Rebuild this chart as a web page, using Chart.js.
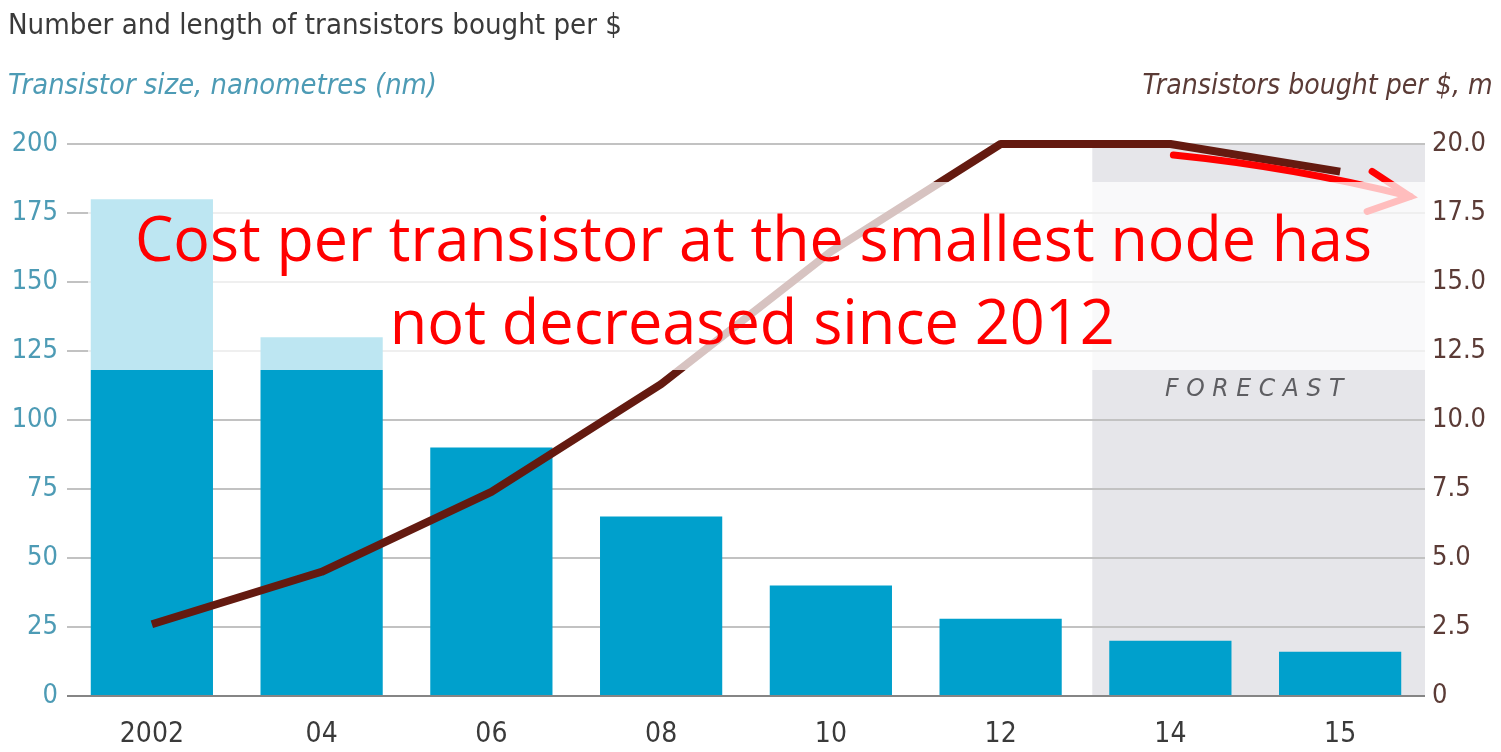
<!DOCTYPE html>
<html lang="en">
<head>
<meta charset="UTF-8">
<title>Transistors per $</title>
<style>
    body{
        margin: 0px;
        padding: 0px;
        background: #ffffff;
    }
    #wrap{
        position: relative;
        width: 1501px;
        height: 752px;
        overflow: hidden;
    }
    #myChart{
        position: absolute;
        left: 0px;
        top: 0px;
    }
    .lbl{
        position: absolute;
        white-space: nowrap;
        font-family: "DejaVu Sans Condensed", "Liberation Sans Narrow", Roboto, sans-serif;
        line-height: 1;
    }
    #title{ left: 8px; top: 11px; font-size: 28px; color: #3a3a3a; transform-origin: left center; }
    #leftUnit{ left: 8px; top: 71px; font-size: 28px; font-style: italic; color: #4d9bb5; transform-origin: left center; }
    #rightUnit{ right: 8px; top: 71px; font-size: 28px; font-style: italic; color: #5b3b36; transform-origin: right center; }
    #forecast{ left: 1165px; top: 376px; font-size: 24px; font-style: italic; letter-spacing: 7px; color: #5e5e62; transform-origin: left center; }
    /* note box laid over the top of the plot */
    #note{
        position: absolute;
        left: 88px;
        top: 182px;
        width: 1337px;
        height: 188px;
        background: rgba(255, 255, 255, 0.74);
    }
    .noteLine{
        position: absolute;
        white-space: nowrap;
        font-family: "Open Sans", "Noto Sans", sans-serif;
        font-size: 62px;
        line-height: 1;
        color: #ff0000;
        transform-origin: center center;
    }
</style>
</head>
<body>
<div id="wrap">
    <canvas id="myChart" width="1501" height="752"></canvas>
    <div class="lbl" id="title" data-w="614">Number and length of transistors bought per $</div>
    <div class="lbl" id="leftUnit" data-w="429">Transistor size, nanometres (nm)</div>
    <div class="lbl" id="rightUnit" data-w="350">Transistors bought per $, m</div>
    <div class="lbl" id="forecast" data-w="186">FORECAST</div>
    <div id="note">
        <div class="noteLine" id="note1" data-w="1237" data-cx="665" data-cy="55">Cost per transistor at the smallest node has</div>
        <div class="noteLine" id="note2" data-w="725" data-cx="664" data-cy="138">not decreased since 2012</div>
    </div>
</div>

<script src="https://cdn.jsdelivr.net/npm/chart.js@4.4.1/dist/chart.umd.min.js"></script>
<script>
const years = ['2002', '04', '06', '08', '10', '12', '14', '15'];
const sizeNm = [180, 130, 90, 65, 40, 28, 20, 16];
const perDollar = [2.6, 4.5, 7.4, 11.3, 16.1, 20.0, 20.0, 19.0];
const forecastFrom = '14';

const tickFont = '"DejaVu Sans Condensed", "Liberation Sans Narrow", Roboto, sans-serif';

// squeeze text horizontally to the wanted width
document.querySelectorAll('[data-w]').forEach(function(el){
    let w = el.getBoundingClientRect().width;
    let s = parseFloat(el.dataset.w) / w;
    if (el.dataset.cx) {
        let h = el.getBoundingClientRect().height;
        el.style.left = (parseFloat(el.dataset.cx) - w / 2) + 'px';
        el.style.top = (parseFloat(el.dataset.cy) - h / 2) + 'px';
    }
    el.style.transform = 'scaleX(' + s + ')';
});

// grey band behind the forecast years
const forecastBand = {
    id: 'forecastBand',
    beforeDraw(chart){
        const x = chart.scales.x, y = chart.scales.y, ctx = chart.ctx;
        const i = years.indexOf(forecastFrom);
        const step = x.getPixelForValue(1) - x.getPixelForValue(0);
        const left = x.getPixelForValue(i) - step * 0.46;
        ctx.save();
        ctx.fillStyle = '#e6e6ea';
        ctx.fillRect(left, y.getPixelForValue(200), chart.chartArea.right - left, y.getPixelForValue(0) - y.getPixelForValue(200));
        ctx.restore();
    }
};

// red arrow pointing at the flat end of the line
const redArrow = {
    id: 'redArrow',
    afterDatasetsDraw(chart){
        const x = chart.scales.x, y1 = chart.scales.y1, ctx = chart.ctx;
        const i = years.indexOf(forecastFrom);
        const x0 = x.getPixelForValue(i) + 3, y0 = y1.getPixelForValue(19.6);
        const x1 = x.getPixelForValue(i + 1) + 70, y1p = y1.getPixelForValue(18.1);
        ctx.save();
        ctx.strokeStyle = '#ff0000';
        ctx.lineWidth = 7;
        ctx.lineCap = 'round';
        ctx.beginPath();
        ctx.moveTo(x0, y0);
        ctx.quadraticCurveTo(x0 + 120, y0 + 12, x1, y1p);
        ctx.stroke();
        ctx.beginPath();
        ctx.moveTo(x1 - 38, y1p - 25);
        ctx.lineTo(x1, y1p);
        ctx.lineTo(x1 - 43, y1p + 15);
        ctx.stroke();
        ctx.restore();
    }
};

const ctx = document.getElementById('myChart').getContext('2d');
const myChart = new Chart(ctx, {
    type: 'bar',
    data: {
        labels: years,
        datasets: [{
            type: 'line',
            label: 'Transistors bought per $, m',
            data: perDollar,
            yAxisID: 'y1',
            borderColor: '#641a10',
            borderWidth: 8,
            pointRadius: 0,
            tension: 0,
            borderJoinStyle: 'round',
            clip: false,
            order: 0
        }, {
            label: 'Transistor size, nm',
            data: sizeNm,
            yAxisID: 'y',
            backgroundColor: '#00a0cc',
            barPercentage: 0.72,
            categoryPercentage: 1.0,
            order: 1
        }]
    },
    options: {
        responsive: false,
        animation: false,
        layout: { padding: { top: 144, left: 0, right: 0, bottom: 0 } },
        plugins: {
            legend: { display: false },
            tooltip: { enabled: false }
        },
        scales: {
            x: {
                grid: { display: false, drawTicks: false },
                border: { display: false },
                ticks: { color: '#3a3a3a', font: { family: tickFont, size: 28 }, padding: 22 },
                afterFit(scale){ scale.height = 56; }
            },
            y: {
                position: 'left',
                min: 0,
                max: 200,
                ticks: { stepSize: 25, color: '#4d9bb5', font: { family: tickFont, size: 27 }, padding: 9 },
                grid: {
                    drawTicks: false,
                    lineWidth: 2,
                    color: (c) => c.tick && c.tick.value === 0 ? '#858585' : '#c2c2c2'
                },
                border: { display: false },
                afterFit(scale){ scale.width = 67; }
            },
            y1: {
                position: 'right',
                min: 0,
                max: 20,
                ticks: {
                    stepSize: 2.5,
                    color: '#5b3b36',
                    font: { family: tickFont, size: 27 },
                    padding: 7,
                    callback: (v) => v === 0 ? '0' : v.toFixed(1)
                },
                grid: { display: false, drawTicks: false },
                border: { display: false },
                afterFit(scale){ scale.width = 76; }
            }
        }
    },
    plugins: [forecastBand, redArrow]
});
</script>
</body>
</html>
